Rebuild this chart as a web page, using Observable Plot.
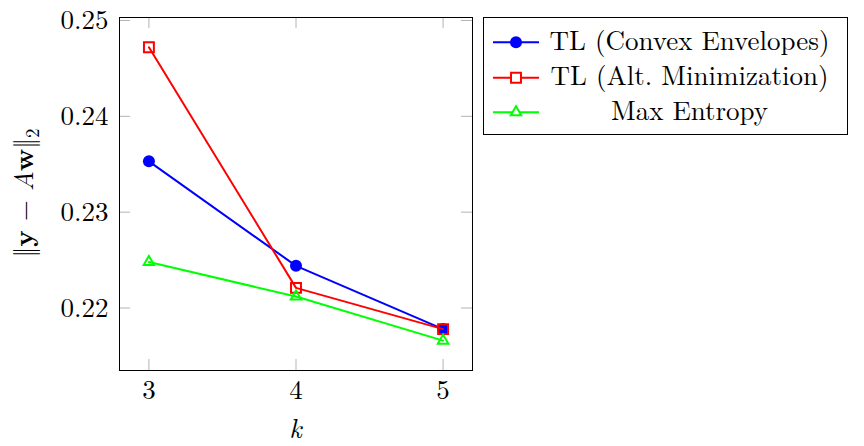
<!DOCTYPE html>
<html><head><meta charset="utf-8">
<script src="https://cdn.jsdelivr.net/npm/d3@7"></script>
<script src="https://cdn.jsdelivr.net/npm/@observablehq/plot@0.6"></script>
<style>body{margin:0;background:#fff} #chart{position:relative;width:864px;height:446px}</style>
</head><body><div id="chart"></div>
<script>
const kValues = [3, 4, 5];
const convexEnvelopes = [0.2353, 0.2244, 0.2178];
const altMinimization = [0.2472, 0.2221, 0.2178];
const maxEntropy = [0.2248, 0.2212, 0.2166];
const seriesNames = ["TL (Convex Envelopes)", "TL (Alt. Minimization)", "Max Entropy"];
const xTicks = [3, 4, 5];
const yTicks = [0.22, 0.23, 0.24, 0.25];
const colors = ["#0000ff", "#ff0000", "#00ff00"];
const symbols = ["circle", "square", "triangle"];
const radii = [6, 5.6, 3.9];
const fills = ["#0000ff", "none", "none"];

const allSeries = [convexEnvelopes, altMinimization, maxEntropy];
const data = [];
allSeries.forEach((vals, i) => vals.forEach((v, j) => data.push({series: seriesNames[i], k: kValues[j], v})));

const W = 864, H = 446, mL = 119, mR = 392, mT = 17, mB = 76;
const fw = W - mL - mR, fh = H - mT - mB;
const FONT = "Latin Modern Roman";
const FS = 27;
const tickColor = "#b4b4b4";

const marks = [
  Plot.ruleX(xTicks, {stroke: tickColor, insetTop: fh - 11}),
  Plot.ruleX(xTicks, {stroke: tickColor, insetBottom: fh - 11}),
  Plot.ruleY(yTicks, {stroke: tickColor, insetRight: fw - 11}),
  Plot.ruleY(yTicks, {stroke: tickColor, insetLeft: fw - 11}),
  Plot.axisX(xTicks, {tickSize: 0, tickPadding: 9, fontSize: FS, label: null, tickFormat: d => String(d)}),
  Plot.axisY(yTicks, {tickSize: 0, tickPadding: 11, fontSize: FS, label: null, tickFormat: d3.format(".2f")})
];
seriesNames.forEach((name, i) => {
  const sd = data.filter(d => d.series === name);
  marks.push(Plot.line(sd, {x: "k", y: "v", stroke: colors[i], strokeWidth: 2}));
  marks.push(Plot.dot(sd, {x: "k", y: "v", symbol: () => symbols[i], r: radii[i],
    fill: fills[i], stroke: fills[i] === "none" ? colors[i] : "none", strokeWidth: 2}));
});
marks.push(Plot.frame({stroke: "black", strokeWidth: 1}));

const chart = Plot.plot({
  width: W, height: H,
  marginLeft: mL, marginRight: mR, marginTop: mT, marginBottom: mB,
  style: {fontFamily: FONT, fontSize: FS + "px", background: "white", color: "black"},
  x: {domain: [2.8, 5.2]},
  y: {domain: [0.21348, 0.25031]},
  symbol: {type: "identity"},
  marks
});
document.getElementById("chart").appendChild(chart);

const svg = d3.select(chart);
// y axis label
const yl = svg.append("text")
  .attr("transform", "translate(24,193) rotate(-90)")
  .attr("text-anchor", "middle").attr("dy", "0.35em")
  .style("font-family", FONT).style("font-size", FS + "px").attr("fill", "black");
yl.append("tspan").text("‖");
yl.append("tspan").attr("font-weight", "bold").text("y");
yl.append("tspan").text(" − ");
yl.append("tspan").attr("font-style", "italic").text("A");
yl.append("tspan").attr("font-weight", "bold").text("w");
yl.append("tspan").text("‖");
yl.append("tspan").attr("dy", 6).style("font-size", "19px").text("2");

// x axis label
svg.append("text").attr("x", mL + fw / 2).attr("y", 438)
  .attr("text-anchor", "middle").style("font-family", FONT).style("font-size", FS + "px")
  .attr("font-style", "italic").attr("fill", "black").text("k");

// legend
const lg = svg.append("g");
lg.append("rect").attr("x", 483.5).attr("y", 17.5).attr("width", 364).attr("height", 117)
  .attr("fill", "white").attr("stroke", "black").attr("stroke-width", 1);
const rowY = [42.3, 77.8, 112.3];
const baseY = [49.5, 85, 120];
seriesNames.forEach((name, i) => {
  lg.append("line").attr("x1", 493).attr("x2", 539).attr("y1", rowY[i]).attr("y2", rowY[i])
    .attr("stroke", colors[i]).attr("stroke-width", 2);
  const sym = {circle: d3.symbolCircle, square: d3.symbolSquare, triangle: d3.symbolTriangle}[symbols[i]];
  lg.append("path").attr("d", d3.symbol(sym, Math.PI * radii[i] * radii[i])())
    .attr("transform", `translate(516,${rowY[i]})`)
    .attr("fill", fills[i] === "none" ? "white" : fills[i])
    .attr("stroke", fills[i] === "none" ? colors[i] : "none").attr("stroke-width", 2);
  lg.append("text").attr("x", 689.5).attr("y", baseY[i]).attr("text-anchor", "middle")
    .style("font-family", FONT).style("font-size", FS + "px").attr("fill", "black").text(name);
});
</script>
</body></html>
